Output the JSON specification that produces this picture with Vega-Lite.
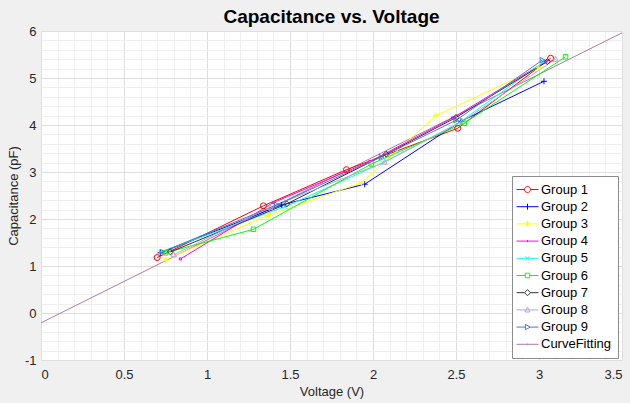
{
  "$schema": "https://vega.github.io/schema/vega-lite/v6.json",
  "width": 581,
  "height": 329,
  "autosize": {"type": "none"},
  "padding": {"left": 41, "top": 31, "right": 8, "bottom": 43},
  "background": "#f0f0f0",
  "title": {"text": "Capacitance vs. Voltage", "fontSize": 19, "font": "Liberation Sans", "fontWeight": "bold", "color": "#000000", "offset": -2},
  "config": {
    "view": {"fill": "white", "stroke": "#707070", "strokeWidth": 1},
    "axis": {"labelFont": "Liberation Sans", "titleFont": "Liberation Sans", "labelFontSize": 13, "titleFontSize": 13, "labelColor": "#262626", "titleColor": "#262626", "titleFontWeight": "normal"}
  },
  "datasets": {
    "fit": [
      {"group": "CurveFitting", "v": 0, "c": -0.21},
      {"group": "CurveFitting", "v": 3.5, "c": 5.96}
    ],
    "groups": [
      {"group": "Group 1", "v": 0.70, "c": 1.18},
      {"group": "Group 1", "v": 1.34, "c": 2.28},
      {"group": "Group 1", "v": 1.84, "c": 3.05},
      {"group": "Group 1", "v": 2.51, "c": 3.93},
      {"group": "Group 1", "v": 3.07, "c": 5.42},
      {"group": "Group 2", "v": 0.72, "c": 1.28},
      {"group": "Group 2", "v": 1.45, "c": 2.30},
      {"group": "Group 2", "v": 1.95, "c": 2.74},
      {"group": "Group 2", "v": 2.53, "c": 4.08},
      {"group": "Group 2", "v": 3.03, "c": 4.93},
      {"group": "Group 3", "v": 0.75, "c": 1.13},
      {"group": "Group 3", "v": 1.37, "c": 2.08},
      {"group": "Group 3", "v": 1.93, "c": 2.77},
      {"group": "Group 3", "v": 2.38, "c": 4.20},
      {"group": "Group 3", "v": 3.00, "c": 5.22},
      {"group": "Group 4", "v": 0.84, "c": 1.15},
      {"group": "Group 4", "v": 1.40, "c": 2.35},
      {"group": "Group 4", "v": 1.98, "c": 3.22},
      {"group": "Group 4", "v": 2.48, "c": 4.15},
      {"group": "Group 4", "v": 3.04, "c": 5.35},
      {"group": "Group 5", "v": 0.72, "c": 1.30},
      {"group": "Group 5", "v": 1.47, "c": 2.26},
      {"group": "Group 5", "v": 2.06, "c": 3.20},
      {"group": "Group 5", "v": 2.52, "c": 4.05},
      {"group": "Group 5", "v": 3.03, "c": 5.35},
      {"group": "Group 6", "v": 0.75, "c": 1.28},
      {"group": "Group 6", "v": 1.28, "c": 1.78},
      {"group": "Group 6", "v": 1.99, "c": 3.17},
      {"group": "Group 6", "v": 2.55, "c": 4.04},
      {"group": "Group 6", "v": 3.16, "c": 5.45},
      {"group": "Group 7", "v": 0.78, "c": 1.30},
      {"group": "Group 7", "v": 1.48, "c": 2.32},
      {"group": "Group 7", "v": 2.08, "c": 3.38},
      {"group": "Group 7", "v": 2.50, "c": 4.16},
      {"group": "Group 7", "v": 3.05, "c": 5.35},
      {"group": "Group 8", "v": 0.80, "c": 1.24},
      {"group": "Group 8", "v": 1.38, "c": 2.25},
      {"group": "Group 8", "v": 2.07, "c": 3.21},
      {"group": "Group 8", "v": 2.54, "c": 4.08},
      {"group": "Group 8", "v": 3.10, "c": 5.40},
      {"group": "Group 9", "v": 0.73, "c": 1.30},
      {"group": "Group 9", "v": 1.42, "c": 2.30},
      {"group": "Group 9", "v": 2.05, "c": 3.32},
      {"group": "Group 9", "v": 2.50, "c": 4.10},
      {"group": "Group 9", "v": 3.02, "c": 5.38}
    ]
  },
  "layer": [
    {
      "data": {"name": "fit"},
      "mark": {"type": "line", "strokeWidth": 1, "clip": true},
      "encoding": {
        "x": {"field": "v", "type": "quantitative", "scale": {"domain": [0, 3.5], "nice": false, "zero": false},
          "axis": {"orient": "bottom", "values": [0,0.1,0.2,0.3,0.4,0.5,0.6,0.7,0.8,0.9,1,1.1,1.2,1.3,1.4,1.5,1.6,1.7,1.8,1.9,2,2.1,2.2,2.3,2.4,2.5,2.6,2.7,2.8,2.9,3,3.1,3.2,3.3,3.4,3.5], "grid": true, "gridColor": "#efefef", "labels": false, "ticks": false, "domain": false, "title": null}},
        "y": {"field": "c", "type": "quantitative", "scale": {"domain": [-1, 6], "nice": false, "zero": false},
          "axis": {"orient": "left", "values": [-1,-0.8,-0.6,-0.4,-0.2,0,0.2,0.4,0.6,0.8,1,1.2,1.4,1.6,1.8,2,2.2,2.4,2.6,2.8,3,3.2,3.4,3.6,3.8,4,4.2,4.4,4.6,4.8,5,5.2,5.4,5.6,5.8,6], "grid": true, "gridColor": "#efefef", "labels": false, "ticks": false, "domain": false, "title": null}},
        "color": {"field": "group", "type": "nominal",
          "scale": {"domain": ["Group 1","Group 2","Group 3","Group 4","Group 5","Group 6","Group 7","Group 8","Group 9","CurveFitting"],
                    "range": ["#ff0000","#0000ff","#ffff00","#ff00ff","#00ffff","#00ff00","#333333","#b4a6dc","#4a7dbf","#b07aa4"]},
          "legend": {
            "title": null, "orient": "none", "legendX": 471, "legendY": 145,
            "fillColor": "white", "strokeColor": "#8c8c8c", "padding": 6,
            "labelFont": "Liberation Sans", "labelFontSize": 13, "labelColor": "#000000",
            "symbolSize": 196, "symbolStrokeWidth": 1, "symbolOffset": 2, "labelOffset": 6, "rowPadding": 2.2,
            "encode": {"symbols": {"update": {
              "fill": {"value": "transparent"},
              "shape": {"signal": "['M-1.57,0L-0.43,0M0.43,0L1.57,0M-0.43,0A0.43,0.43 0 1,0 0.43,0A0.43,0.43 0 1,0 -0.43,0','M-1.57,0L1.57,0M0,-0.43L0,0.43','M-1.57,0L1.57,0M0,-0.43L0,0.43M-0.3,-0.3L0.3,0.3M-0.3,0.3L0.3,-0.3','M-1.57,0L1.57,0M0,-0.15L0,0.15','M-1.57,0L1.57,0M-0.3,-0.3L0.3,0.3M-0.3,0.3L0.3,-0.3','M-1.57,0L-0.32,0M0.32,0L1.57,0M-0.32,-0.32L0.32,-0.32L0.32,0.32L-0.32,0.32Z','M-1.57,0L-0.43,0M0.43,0L1.57,0M-0.43,0L0,-0.43L0.43,0L0,0.43Z','M-1.57,0L1.57,0M-0.37,0.3L0.37,0.3L0,-0.4Z','M-1.57,0L-0.3,0M0.4,0L1.57,0M-0.3,-0.37L0.4,0L-0.3,0.37Z','M-1.57,0L1.57,0M0,-0.1L0,0.1'][indexof(['Group 1','Group 2','Group 3','Group 4','Group 5','Group 6','Group 7','Group 8','Group 9','CurveFitting'], datum.value)]"}
            }}}
          }}
      }
    },
    {
      "data": {"name": "groups"},
      "mark": {"type": "line", "strokeWidth": 1},
      "encoding": {
        "x": {"field": "v", "type": "quantitative",
          "axis": {"orient": "bottom", "values": [0,0.5,1,1.5,2,2.5,3,3.5], "labelExpr": "'' + datum.value", "grid": true, "gridColor": "#dedede", "ticks": false, "domain": false, "labelPadding": 8, "title": "Voltage (V)", "titlePadding": 4}},
        "y": {"field": "c", "type": "quantitative",
          "axis": {"orient": "left", "values": [-1,0,1,2,3,4,5,6], "labelExpr": "'' + datum.value", "grid": true, "gridColor": "#dedede", "ticks": false, "domain": false, "labelPadding": 5, "title": "Capacitance (pF)", "titlePadding": 4}},
        "color": {"field": "group", "type": "nominal"}
      }
    },
    {
      "data": {"name": "groups"},
      "mark": {"type": "point", "filled": false, "strokeWidth": 1, "size": 36, "opacity": 1},
      "encoding": {
        "x": {"field": "v", "type": "quantitative", "axis": null},
        "y": {"field": "c", "type": "quantitative", "axis": null},
        "color": {"field": "group", "type": "nominal"},
        "shape": {"field": "group", "type": "nominal", "legend": null,
          "scale": {"domain": ["Group 1","Group 2","Group 3","Group 4","Group 5","Group 6","Group 7","Group 8","Group 9"],
                    "range": ["circle","M-1,0L1,0M0,-1L0,1","M-1,0L1,0M0,-1L0,1M-0.7,-0.7L0.7,0.7M-0.7,0.7L0.7,-0.7","M-0.35,-0.35L0.35,-0.35L0.35,0.35L-0.35,0.35Z","M-0.7,-0.7L0.7,0.7M-0.7,0.7L0.7,-0.7","M-0.75,-0.75L0.75,-0.75L0.75,0.75L-0.75,0.75Z","M-1,0L0,-1L1,0L0,1Z","M-0.9,0.7L0.9,0.7L0,-0.9Z","M-0.7,-0.9L0.9,0L-0.7,0.9Z"]}}
      }
    }
  ],
  "resolve": {"axis": {"x": "independent", "y": "independent"}}
}
